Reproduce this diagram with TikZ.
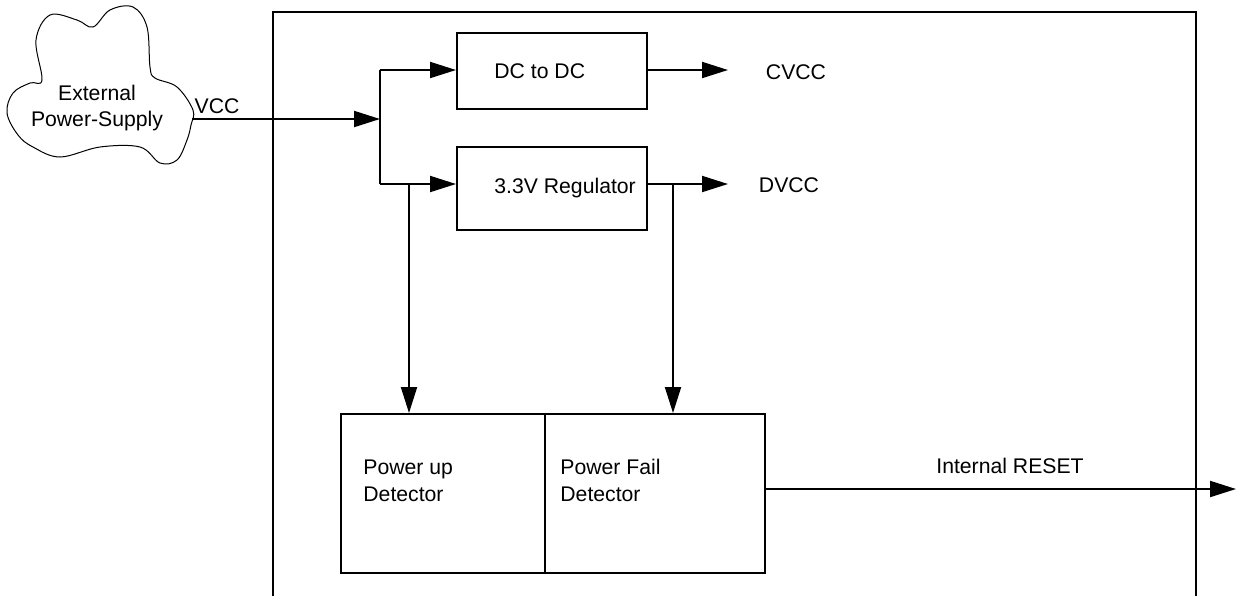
\documentclass[tikz,border=0pt]{standalone}
\usepackage{fontspec}
\setmainfont{Liberation Sans}
\usetikzlibrary{arrows.meta,calc}

\tikzset{
  blockbox/.style={draw, line width=1pt, minimum width=95pt, inner sep=0pt},
  txt/.style={inner sep=0pt, align=left, font=\fontsize{10.6}{13.3}\selectfont},
  arr/.style={line width=1pt, -{Triangle[length=13pt,width=8pt]}},
  wire/.style={line width=1pt}
}

\begin{document}
\begin{tikzpicture}[x=0.5pt, y=-0.5pt]

\useasboundingbox (0,0) rectangle (1236,596);

%OUTER BOX (open at the bottom)
\draw [wire] (273,596)--(273,12)--(1196,12)--(1196,596);

%CLOUD
\draw [line width=0.5pt] plot [smooth cycle, tension=0.6] coordinates {
  (42,80) (36,40) (50,15) (77,20) (93,27) (110,10) (133,7) (147,27)
  (150,67) (155,78) (177,87) (193,110) (191,125) (187,140) (177,160)
  (160,163) (140,147) (100,147) (60,157) (33,147) (18,135) (7,113)
  (13,93) (30,83)};
\node [txt, align=center] (ext) at (97,108) {External\\Power-Supply};
\coordinate (cloudout) at (192,119);

%BLOCKS
\node [blockbox, minimum height=38pt] (dcdc) at (552,71) {};
\node [txt, anchor=west] (dcdctxt) at ($(dcdc.west)+(38,0)$) {DC to DC};
\node [blockbox, minimum height=41.5pt] (reg) at (552,188.5) {};
\node [txt, anchor=west] (regtxt) at ($(reg.west)+(38,0)$) {3.3V Regulator};

\node [blockbox, minimum width=102pt, minimum height=79.5pt] (pud) at (443,493.5) {};
\node [blockbox, minimum width=110pt, minimum height=79.5pt] (pfd) at (655,493.5) {};
\node [txt, anchor=west] (pudtxt) at ($(pud.west)+(23,-13)$) {Power up\\Detector};
\node [txt, anchor=west] (pfdtxt) at ($(pfd.west)+(16,-13)$) {Power Fail\\Detector};

%LABELS
\node [txt] (vcc) at (217,106) {VCC};
\node [txt] (cvcc) at (796,72) {CVCC};
\node [txt] (dvcc) at (789,185) {DVCC};
\node [txt] (rst) at (1010,466) {Internal RESET};

%JUNCTION
\coordinate (jtop) at (380,70);
\coordinate (jmid) at (380,119);
\coordinate (jbot) at (380,184);
\coordinate (tapa) at (409,184);
\coordinate (tapb) at (673,184);
\coordinate (cvccend) at (728,70);
\coordinate (dvccend) at (728,184);
\coordinate (rstend) at (1236,489);

%CONNECTORS
\draw [arr] (cloudout) -- (jmid);
\draw [wire] (jtop) -- (jbot);
\draw [arr] (jtop) -- (jtop -| dcdc.west);
\draw [arr] (jbot) -- (jbot -| reg.west);
\draw [arr] (dcdc.east |- jtop) -- (cvccend);
\draw [arr] (reg.east |- jbot) -- (dvccend);
\draw [arr] (tapa) -- (tapa |- pud.north);
\draw [arr] (tapb) -- (tapb |- pfd.north);
\draw [arr] (pfd.east |- rstend) -- (rstend);

\end{tikzpicture}
\end{document}
